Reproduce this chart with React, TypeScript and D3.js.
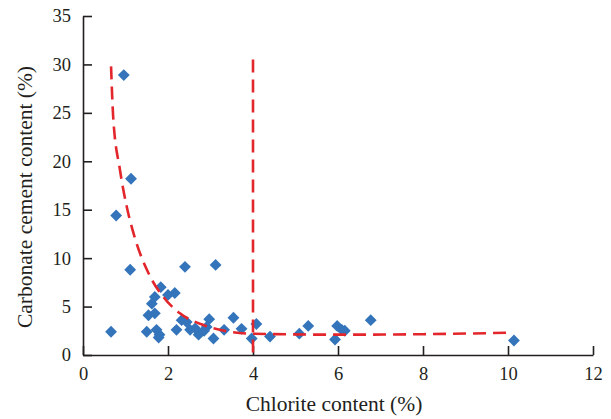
import React, { useRef, useEffect } from 'react'
import * as d3 from 'd3'

// samples: chlorite content (%) vs carbonate cement content (%)
const chlorite = [
  0.66, 0.96, 0.78, 1.13, 1.11, 2.4, 3.12, 1.83, 2.0, 2.16, 1.69, 1.62, 1.54, 1.69,
  1.5, 1.73, 1.8, 2.2, 2.32, 2.44, 2.52, 2.64, 2.72, 2.91, 2.97, 3.54, 3.07, 3.32,
  3.73, 4.08, 3.97, 4.4, 5.09, 5.3, 5.93, 5.98, 6.09, 6.16, 6.77, 10.14, 1.78, 2.85,
]
const carbonate = [
  2.4, 28.9, 14.4, 18.2, 8.8, 9.1, 9.3, 7.0, 6.2, 6.4, 6.0, 5.3, 4.1, 4.3,
  2.4, 2.6, 2.1, 2.6, 3.6, 3.4, 2.6, 2.75, 2.1, 2.9, 3.7, 3.85, 1.7, 2.6,
  2.7, 3.2, 1.7, 1.9, 2.2, 3.0, 1.6, 3.0, 2.6, 2.5, 3.6, 1.5, 1.8, 2.5,
]

// dashed trend curve
const curveX = [0.66, 0.71, 0.87, 1.03, 1.2, 1.58, 1.89, 2.28, 2.83, 3.46, 4.0, 6.0, 8.0, 10.05]
const curveY = [29.8, 24.6, 19.1, 15.3, 12.4, 8.1, 6.0, 4.3, 3.1, 2.4, 2.2, 2.1, 2.15, 2.3]

// vertical threshold line
const thresholdX = 4
const thresholdTop = 30.5

const xTicks = [0, 2, 4, 6, 8, 10, 12]
const yTicks = [0, 5, 10, 15, 20, 25, 30, 35]

const App = () => {
  const xAxisRef = useRef<SVGGElement>(null)
  const yAxisRef = useRef<SVGGElement>(null)

  const width = 611
  const height = 419

  const x = d3.scaleLinear().domain([0, 12]).range([83, 593])
  const y = d3.scaleLinear().domain([0, 35]).range([355, 16])

  useEffect(() => {
    const xa = d3.axisBottom(x).tickValues(xTicks).tickSizeInner(-9).tickSizeOuter(0).tickPadding(12)
    const ya = d3.axisLeft(y).tickValues(yTicks).tickSizeInner(-9).tickSizeOuter(0).tickPadding(12)
    const gx = d3.select(xAxisRef.current!).call(xa)
    const gy = d3.select(yAxisRef.current!).call(ya)
    for (const g of [gx, gy]) {
      g.selectAll('path, line').attr('stroke', '#231f20').attr('stroke-width', 1.6)
      g.selectAll('text')
        .attr('fill', '#231f20')
        .style('font-family', '"Liberation Serif", serif')
        .style('font-size', '18.5px')
    }
    // eslint-disable-next-line
  }, [])

  const pts = chlorite.map((c, i) => [c, carbonate[i]])
  const curve = curveX.map((c, i) => [c, curveY[i]] as [number, number])

  const trend = d3.line<[number, number]>()
    .x(d => x(d[0]))
    .y(d => y(d[1]))
    .curve(d3.curveMonotoneX)

  const diamond = d3.symbol().type(d3.symbolSquare).size(70)()

  return (
    <svg width={width} height={height} style={{ position: 'absolute', left: 0, top: 0, background: '#fff' }}>
      <g ref={xAxisRef} transform={`translate(0, ${y(0)})`} />
      <g ref={yAxisRef} transform={`translate(${x(0)}, 0)`} />

      {pts.map((d, i) => (
        <path key={i}
          d={diamond!}
          transform={`translate(${x(d[0])}, ${y(d[1])}) rotate(45)`}
          fill="#3474bb"
        />
      ))}

      <path d={trend(curve)!} fill="none" stroke="#e3262b" strokeWidth={2.6} strokeDasharray="13,7" />
      <line x1={x(thresholdX)} x2={x(thresholdX)} y1={y(thresholdTop)} y2={y(0)}
        stroke="#e3262b" strokeWidth={2.6} strokeDasharray="13,7" />

      <text x={334} y={411} textAnchor="middle"
        style={{ fontFamily: '"Liberation Serif", serif', fontSize: 21.5 }} fill="#231f20">
        Chlorite content (%)
      </text>
      <text transform={`translate(32, 197) rotate(-90)`} textAnchor="middle"
        style={{ fontFamily: '"Liberation Serif", serif', fontSize: 21.5 }} fill="#231f20">
        Carbonate cement content (%)
      </text>
    </svg>
  )
}

export default App
